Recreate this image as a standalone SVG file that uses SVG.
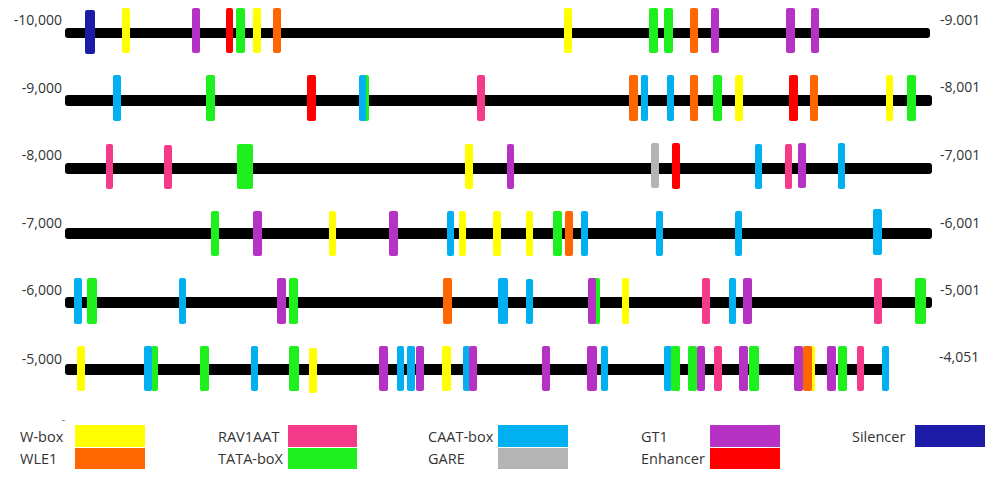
<svg xmlns="http://www.w3.org/2000/svg" width="1000" height="481" viewBox="0 0 1000 481">
<style>
text{font-family:"Open Sans","Liberation Sans",sans-serif;font-size:14px;fill:#333}
#legend text{font-size:14.5px}
#legend text.dash{font-size:9px}
.ln{fill:#000}
.y{fill:#FFFF00}.o{fill:#FF6600}.p{fill:#F53A8A}.g{fill:#1EF01E}.b{fill:#00B0F0}.m{fill:#B532C4}.r{fill:#FF0000}.s{fill:#B4B4B4}.n{fill:#1C1CA8}
.lab{text-anchor:end}
</style>
<rect width="1000" height="481" fill="#fff"/>
<g id="row1">
<rect class="ln" x="65" y="28" width="865" height="10" rx="3"/>
<text class="lab" x="62" y="25">-10,000</text>
<text x="940" y="25">-9.001</text>
<g>
<rect class="n" x="85" y="10" width="10" height="44" rx="2"/>
<rect class="y" x="122" y="8" width="8" height="45" rx="2"/>
<rect class="m" x="192" y="8" width="8" height="45" rx="2"/>
<rect class="r" x="226" y="8" width="7" height="45" rx="2"/>
<rect class="g" x="236" y="8" width="9" height="45" rx="2"/>
<rect class="y" x="253" y="8" width="8" height="45" rx="2"/>
<rect class="o" x="273" y="8" width="8" height="45" rx="2"/>
<rect class="y" x="564" y="8" width="8" height="45" rx="2"/>
<rect class="g" x="649" y="8" width="9" height="45" rx="2"/>
<rect class="g" x="664" y="8" width="9" height="45" rx="2"/>
<rect class="o" x="690" y="8" width="8" height="45" rx="2"/>
<rect class="m" x="711" y="8" width="8" height="45" rx="2"/>
<rect class="m" x="786" y="8" width="9" height="45" rx="2"/>
<rect class="m" x="811" y="8" width="8" height="45" rx="2"/>
</g>
</g>
<g id="row2">
<rect class="ln" x="65" y="95" width="867" height="11" rx="3"/>
<text class="lab" x="62" y="93">-9,000</text>
<text x="940" y="92">-8,001</text>
<g>
<rect class="b" x="113" y="75" width="8" height="46" rx="2"/>
<rect class="g" x="206" y="75" width="9" height="46" rx="2"/>
<rect class="r" x="307" y="75" width="9" height="46" rx="2"/>
<rect class="g" x="362" y="75" width="7" height="46" rx="2"/>
<rect class="b" x="359" y="75" width="7" height="46" rx="2"/>
<rect class="p" x="477" y="75" width="8" height="46" rx="2"/>
<rect class="o" x="629" y="75" width="9" height="46" rx="2"/>
<rect class="b" x="641" y="75" width="7" height="46" rx="2"/>
<rect class="b" x="667" y="75" width="7" height="46" rx="2"/>
<rect class="o" x="690" y="75" width="8" height="46" rx="2"/>
<rect class="g" x="713" y="75" width="9" height="46" rx="2"/>
<rect class="y" x="735" y="75" width="8" height="46" rx="2"/>
<rect class="r" x="789" y="75" width="9" height="46" rx="2"/>
<rect class="o" x="810" y="75" width="8" height="46" rx="2"/>
<rect class="y" x="886" y="75" width="7" height="46" rx="2"/>
<rect class="g" x="907" y="75" width="9" height="46" rx="2"/>
</g>
</g>
<g id="row3">
<rect class="ln" x="65" y="163" width="867" height="11" rx="3"/>
<text class="lab" x="62" y="160">-8,000</text>
<text x="940" y="160">-7,001</text>
<g>
<rect class="p" x="106" y="144" width="7" height="45" rx="2"/>
<rect class="p" x="164" y="145" width="8" height="44" rx="2"/>
<rect class="g" x="237" y="144" width="16" height="45" rx="2"/>
<rect class="y" x="465" y="144" width="8" height="45" rx="2"/>
<rect class="m" x="507" y="144" width="7" height="45" rx="2"/>
<rect class="s" x="651" y="143" width="8" height="45" rx="2"/>
<rect class="r" x="672" y="143" width="8" height="46" rx="2"/>
<rect class="b" x="755" y="144" width="7" height="45" rx="2"/>
<rect class="p" x="785" y="144" width="7" height="45" rx="2"/>
<rect class="m" x="798" y="143" width="8" height="45" rx="2"/>
<rect class="b" x="838" y="143" width="7" height="46" rx="2"/>
</g>
</g>
<g id="row4">
<rect class="ln" x="65" y="228" width="867" height="11" rx="3"/>
<text class="lab" x="62" y="228">-7,000</text>
<text x="940" y="228">-6,001</text>
<g>
<rect class="g" x="211" y="211" width="8" height="45" rx="2"/>
<rect class="m" x="253" y="211" width="9" height="45" rx="2"/>
<rect class="y" x="329" y="211" width="7" height="45" rx="2"/>
<rect class="m" x="389" y="211" width="9" height="45" rx="2"/>
<rect class="b" x="447" y="211" width="7" height="45" rx="2"/>
<rect class="y" x="459" y="211" width="7" height="45" rx="2"/>
<rect class="y" x="493" y="211" width="8" height="45" rx="2"/>
<rect class="y" x="526" y="211" width="7" height="45" rx="2"/>
<rect class="g" x="553" y="211" width="9" height="45" rx="2"/>
<rect class="o" x="565" y="211" width="8" height="45" rx="2"/>
<rect class="b" x="581" y="211" width="7" height="45" rx="2"/>
<rect class="b" x="656" y="211" width="7" height="45" rx="2"/>
<rect class="b" x="735" y="211" width="7" height="45" rx="2"/>
<rect class="b" x="873" y="209" width="9" height="46" rx="2"/>
</g>
</g>
<g id="row5">
<rect class="ln" x="65" y="297" width="867" height="11" rx="3"/>
<text class="lab" x="62" y="295">-6,000</text>
<text x="940" y="295">-5,001</text>
<g>
<rect class="b" x="74" y="278" width="8" height="46" rx="2"/>
<rect class="g" x="87" y="278" width="10" height="46" rx="2"/>
<rect class="b" x="179" y="278" width="7" height="46" rx="2"/>
<rect class="m" x="277" y="278" width="9" height="46" rx="2"/>
<rect class="g" x="289" y="278" width="9" height="46" rx="2"/>
<rect class="o" x="443" y="278" width="9" height="46" rx="2"/>
<rect class="b" x="498" y="278" width="10" height="46" rx="2"/>
<rect class="b" x="526" y="279" width="7" height="45" rx="2"/>
<rect class="g" x="591" y="278" width="9" height="46" rx="2"/>
<rect class="m" x="588" y="278" width="8" height="46" rx="2"/>
<rect class="y" x="622" y="278" width="7" height="46" rx="2"/>
<rect class="p" x="702" y="278" width="8" height="46" rx="2"/>
<rect class="b" x="729" y="278" width="7" height="46" rx="2"/>
<rect class="m" x="743" y="278" width="9" height="46" rx="2"/>
<rect class="p" x="874" y="278" width="8" height="46" rx="2"/>
<rect class="g" x="915" y="278" width="11" height="46" rx="2"/>
</g>
</g>
<g id="row6">
<rect class="ln" x="65" y="364" width="819" height="11" rx="3"/>
<text class="lab" x="62" y="364">-5,000</text>
<text x="939" y="362">-4,051</text>
<g>
<rect class="y" x="77" y="346" width="8" height="45" rx="2"/>
<rect class="g" x="151" y="346" width="7" height="45" rx="2"/>
<rect class="b" x="144" y="346" width="8" height="45" rx="2"/>
<rect class="g" x="200" y="346" width="9" height="45" rx="2"/>
<rect class="b" x="251" y="346" width="7" height="45" rx="2"/>
<rect class="g" x="289" y="346" width="10" height="45" rx="2"/>
<rect class="y" x="309" y="348" width="8" height="45" rx="2"/>
<rect class="m" x="379" y="346" width="9" height="45" rx="2"/>
<rect class="b" x="397" y="346" width="7" height="45" rx="2"/>
<rect class="b" x="407" y="346" width="8" height="45" rx="2"/>
<rect class="m" x="416" y="346" width="8" height="45" rx="2"/>
<rect class="y" x="442" y="346" width="9" height="45" rx="2"/>
<rect class="b" x="463" y="346" width="7" height="45" rx="2"/>
<rect class="m" x="469" y="346" width="8" height="45" rx="2"/>
<rect class="m" x="542" y="346" width="8" height="45" rx="2"/>
<rect class="m" x="587" y="346" width="10" height="45" rx="2"/>
<rect class="b" x="601" y="346" width="7" height="45" rx="2"/>
<rect class="b" x="664" y="346" width="8" height="45" rx="2"/>
<rect class="g" x="671" y="346" width="9" height="45" rx="2"/>
<rect class="g" x="688" y="346" width="9" height="45" rx="2"/>
<rect class="m" x="697" y="346" width="8" height="45" rx="2"/>
<rect class="p" x="714" y="346" width="8" height="45" rx="2"/>
<rect class="m" x="739" y="346" width="9" height="45" rx="2"/>
<rect class="g" x="749" y="346" width="10" height="45" rx="2"/>
<rect class="m" x="794" y="346" width="9" height="45" rx="2"/>
<rect class="y" x="808" y="346" width="7" height="45" rx="2"/>
<rect class="o" x="803" y="346" width="9" height="45" rx="2"/>
<rect class="m" x="827" y="346" width="9" height="45" rx="2"/>
<rect class="g" x="838" y="346" width="9" height="45" rx="2"/>
<rect class="p" x="857" y="346" width="7" height="45" rx="2"/>
<rect class="b" x="882" y="346" width="7" height="45" rx="2"/>
</g>
</g>
<g id="legend">
<text class="dash" x="62" y="423">-</text>
<g id="lg-wbox"><text x="20" y="442">W-box</text><rect class="y" x="75" y="425" width="70" height="22"/></g>
<g id="lg-wle1"><text x="20" y="464">WLE1</text><rect class="o" x="75" y="448" width="70" height="21"/></g>
<g id="lg-rav"><text x="218" y="442">RAV1AAT</text><rect class="p" x="288" y="425" width="69" height="22"/></g>
<g id="lg-tata"><text x="218" y="464">TATA-boX</text><rect class="g" x="288" y="448" width="69" height="21"/></g>
<g id="lg-caat"><text x="428" y="442">CAAT-box</text><rect class="b" x="498" y="425" width="70" height="22"/></g>
<g id="lg-gare"><text x="428" y="464">GARE</text><rect class="s" x="498" y="448" width="70" height="21"/></g>
<g id="lg-gt1"><text x="641" y="442">GT1</text><rect class="m" x="710" y="425" width="70" height="22"/></g>
<g id="lg-enh"><text x="641" y="464">Enhancer</text><rect class="r" x="710" y="448" width="70" height="21"/></g>
<g id="lg-sil"><text x="852" y="442">Silencer</text><rect class="n" x="915" y="425" width="70" height="22"/></g>
</g>
</svg>
